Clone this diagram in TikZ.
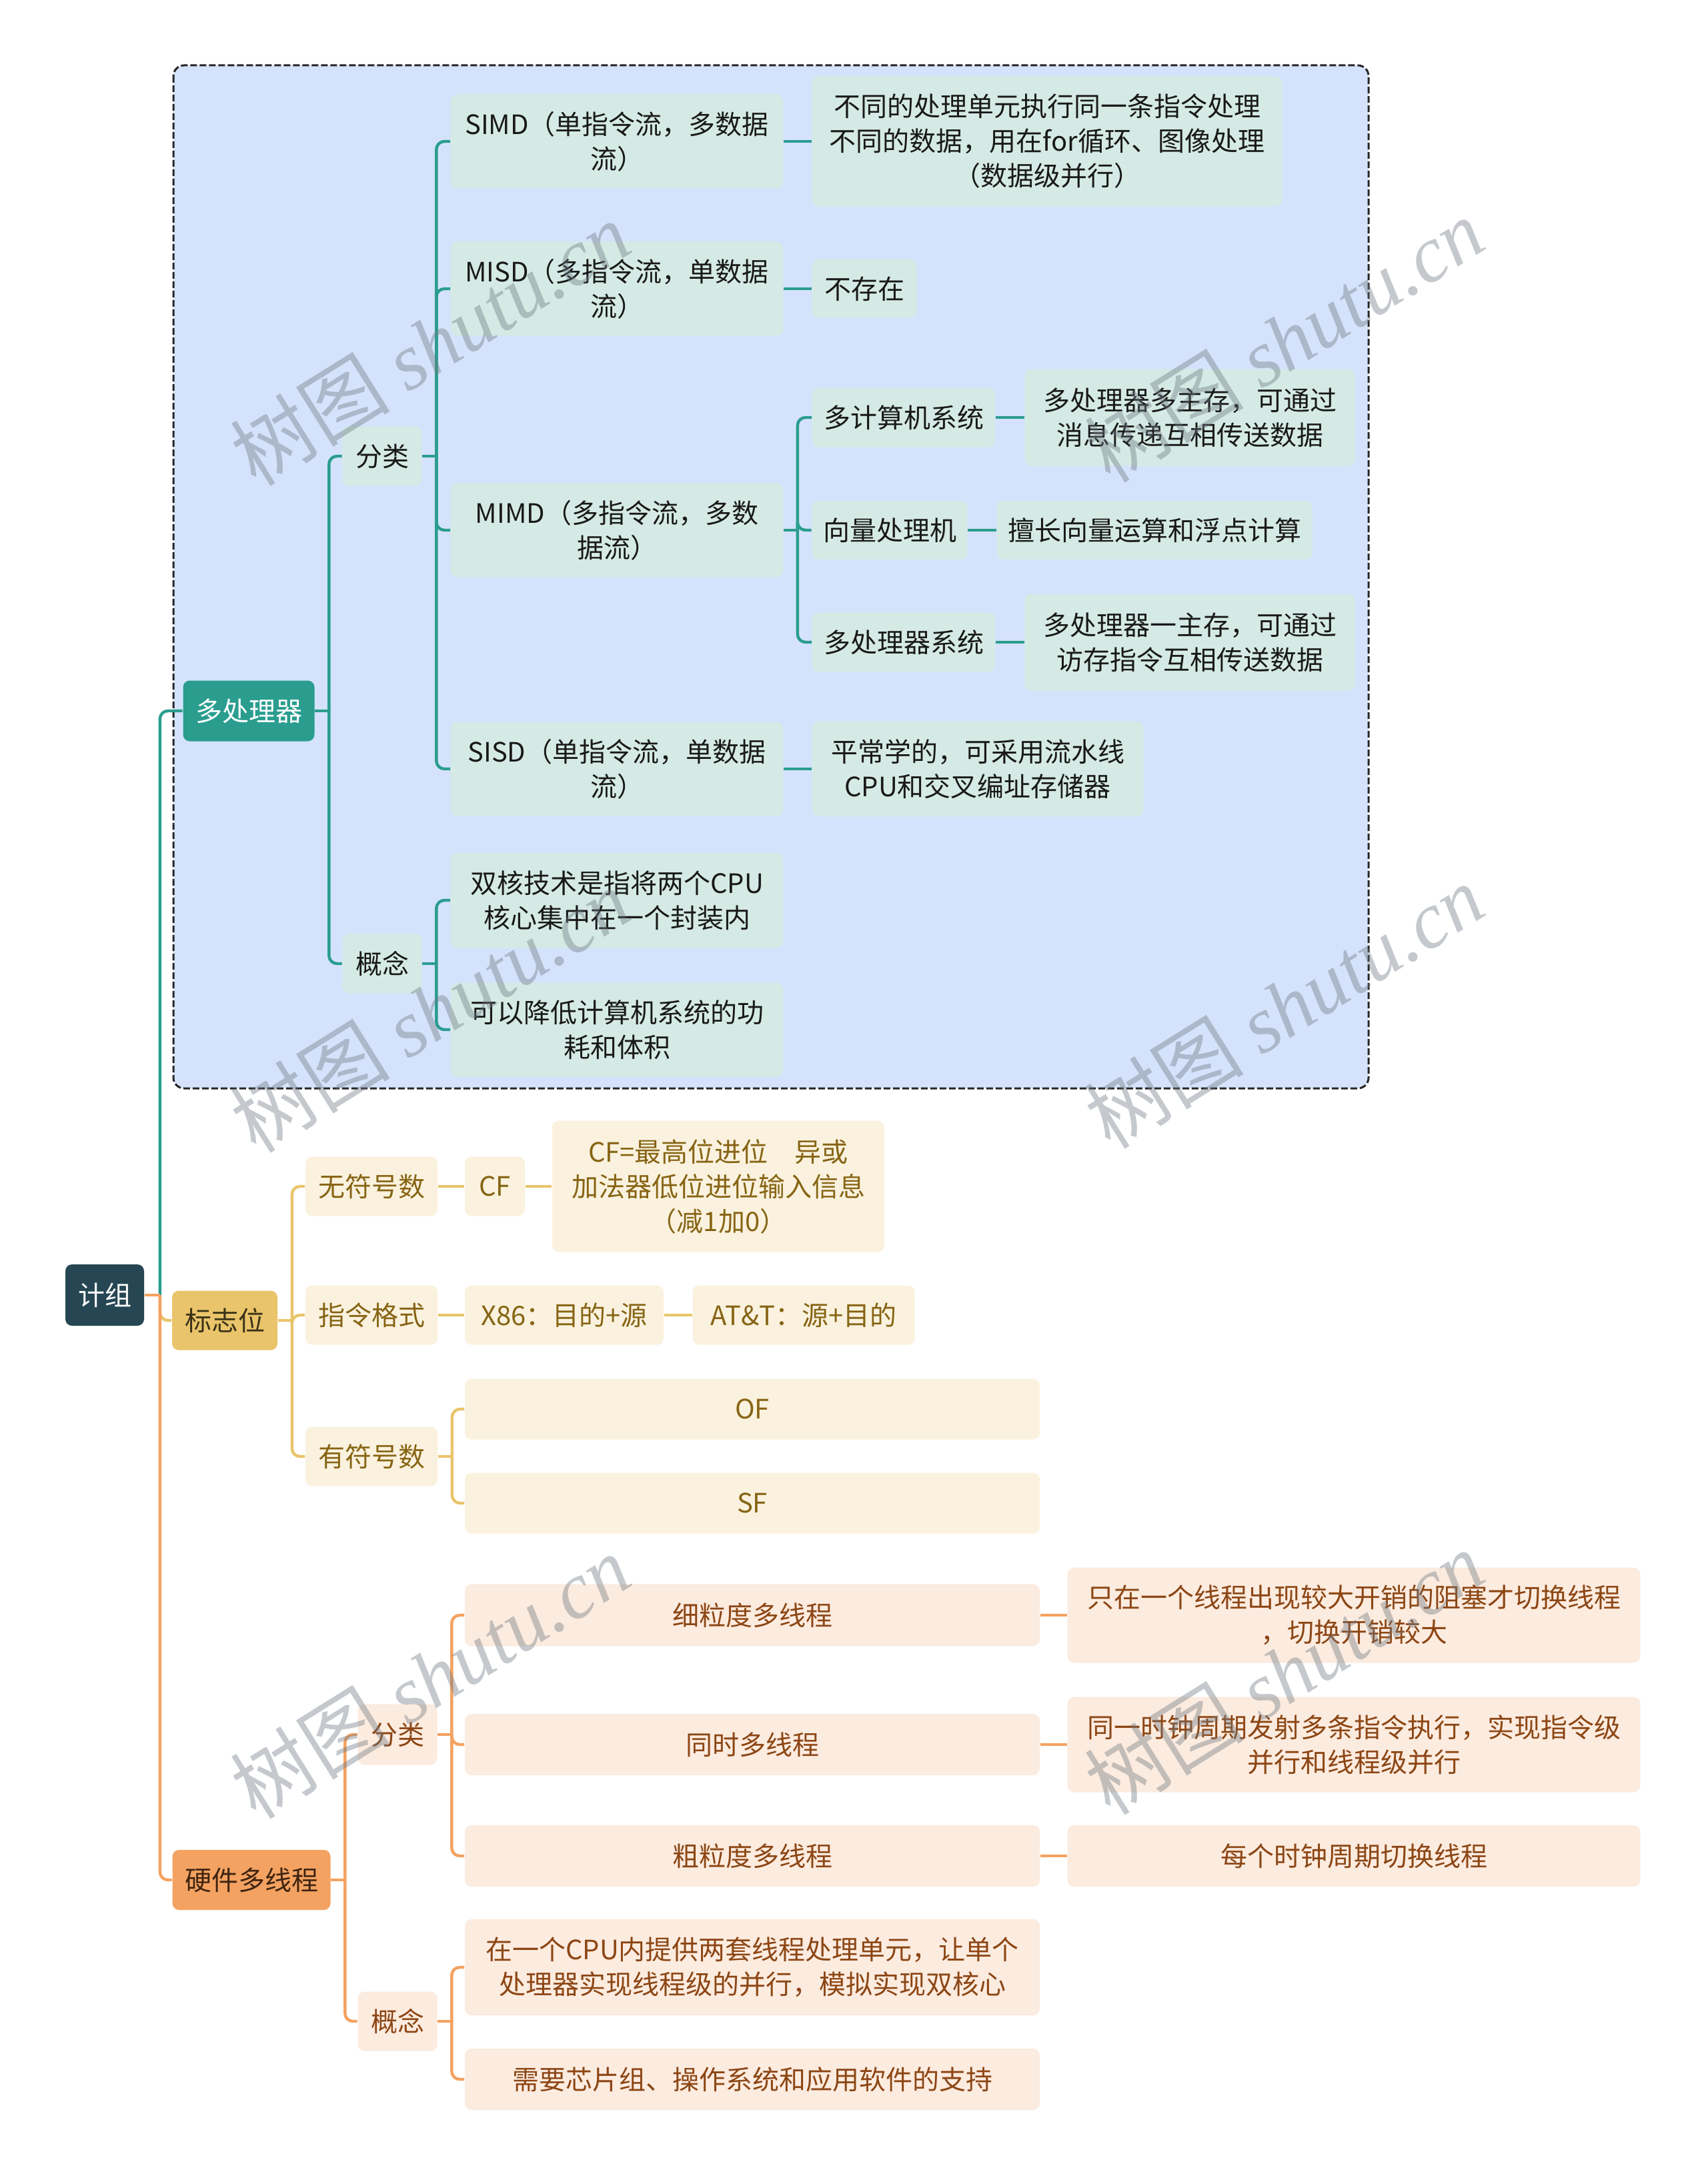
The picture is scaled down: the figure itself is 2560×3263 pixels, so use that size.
\documentclass[tikz,border=0pt]{standalone}
\usepackage{fontspec}
\setmainfont{Noto Sans CJK SC}
\newfontfamily\wmserif{Liberation Serif}
\usetikzlibrary{calc}
\definecolor{tealc}{HTML}{2A9D8F}
\definecolor{rootc}{HTML}{264653}
\definecolor{yelc}{HTML}{E9C46A}
\definecolor{orac}{HTML}{F4A261}
\definecolor{bluebg}{RGB}{212,227,251}
\definecolor{mint}{RGB}{213,234,228}
\definecolor{cream}{RGB}{250,242,222}
\definecolor{peach}{RGB}{252,235,223}
\definecolor{gtwotext}{RGB}{135,100,20}
\definecolor{gthreetext}{RGB}{140,70,20}
\definecolor{wmc}{RGB}{110,120,130}
\definecolor{flagtext}{RGB}{59,51,24}
\definecolor{hwtext}{RGB}{62,36,16}
\tikzset{
  bx/.style={rounded corners=2.5pt, inner sep=0pt, align=center, font={\fontsize{10pt}{13pt}\selectfont}},
  sz/.style 2 args={minimum width=#1*0.25pt, minimum height=#2*0.25pt},
  gone/.style={bx, fill=mint, text=black!90},
  gtwo/.style={bx, fill=cream, text=gtwotext},
  gthree/.style={bx, fill=peach, text=gthreetext},
  conn/.style={line width=1.1pt},
  wm/.style={rotate=32, text=wmc, text opacity=0.4, font={\fontsize{30pt}{30pt}\selectfont}},
}
\newcommand\mmlink[4]{%
  \draw[conn,#1] (#2.east) -- ($(#2.east)+(#4,0)$);
  \draw[conn,#1,rounded corners=3pt] ($(#2.east)+(#4,0)$) |- (#3.west);
}
\begin{document}
\begin{tikzpicture}[x=0.25pt,y=-0.25pt]
\useasboundingbox[fill=white] (0,0) rectangle (2560,3263);
% dashed frame
\draw[fill=bluebg, draw=black!85, line width=0.75pt, dash pattern=on 2.5pt off 1pt, rounded corners=4pt] (260,98) rectangle (2052,1632);

% root and level 1
\node[bx, sz={118}{92}, fill=rootc, text=white] (root) at (157,1942) {计组};
\node[bx, sz={197}{91}, fill=tealc, text=white] (mp) at (373,1066) {多处理器};
\node[bx, sz={158}{89}, fill=yelc, text=flagtext] (flag) at (337,1980) {标志位};
\node[bx, sz={237}{90}, fill=orac, text=hwtext] (hw) at (377,2819) {硬件多线程};

% group 1
\node[gone, sz={119}{89}] (flA) at (573,684) {分类};
\node[gone, sz={119}{89}] (gnA) at (573,1445) {概念};
\node[gone, sz={498}{141}] (simd) at (925,212) {SIMD（单指令流，多数据\\流）};
\node[gone, sz={498}{141}] (misd) at (925,433) {MISD（多指令流，单数据\\流）};
\node[gone, sz={498}{141}] (mimd) at (925,795) {MIMD（多指令流，多数\\据流）};
\node[gone, sz={498}{141}] (sisd) at (925,1153) {SISD（单指令流，单数据\\流）};
\node[gone, sz={705}{195}] (simdc) at (1570,212) {不同的处理单元执行同一条指令处理\\不同的数据，用在for循环、图像处理\\（数据级并行）};
\node[gone, sz={156}{88}] (misdc) at (1296,433) {不存在};
\node[gone, sz={274}{89}] (mcA) at (1355,626) {多计算机系统};
\node[gone, sz={233}{88}] (mcB) at (1334,795) {向量处理机};
\node[gone, sz={274}{89}] (mcC) at (1355,963) {多处理器系统};
\node[gone, sz={495}{145}] (mcAc) at (1784,626) {多处理器多主存，可通过\\消息传递互相传送数据};
\node[gone, sz={473}{88}] (mcBc) at (1731,795) {擅长向量运算和浮点计算};
\node[gone, sz={495}{145}] (mcCc) at (1784,963) {多处理器一主存，可通过\\访存指令互相传送数据};
\node[gone, sz={497}{142}] (sisdc) at (1466,1153) {平常学的，可采用流水线\\CPU和交叉编址存储器};
\node[gone, sz={498}{143}] (gnAa) at (925,1350) {双核技术是指将两个CPU\\核心集中在一个封装内};
\node[gone, sz={498}{141}] (gnAb) at (925,1544) {可以降低计算机系统的功\\耗和体积};

% group 2
\node[gtwo, sz={198}{89}] (uns) at (557,1779) {无符号数};
\node[gtwo, sz={198}{89}] (fmt) at (557,1972) {指令格式};
\node[gtwo, sz={198}{89}] (sgn) at (557,2184) {有符号数};
\node[gtwo, sz={90}{89}] (cf) at (742,1779) {CF};
\node[gtwo, sz={498}{197}] (cfc) at (1077,1779) {CF=最高位进位　异或\\加法器低位进位输入信息\\（减1加0）};
\node[gtwo, sz={298}{89}] (xes) at (846,1972) {X86：目的+源};
\node[gtwo, sz={333}{89}] (att) at (1205,1972) {AT\&T：源+目的};
\node[gtwo, sz={862}{91}] (of) at (1128,2113) {OF};
\node[gtwo, sz={862}{91}] (sf) at (1128,2254) {SF};

% group 3
\node[gthree, sz={119}{91}] (flB) at (596,2601) {分类};
\node[gthree, sz={119}{89}] (gnB) at (596,3031) {概念};
\node[gthree, sz={862}{93}] (tA) at (1128,2422) {细粒度多线程};
\node[gthree, sz={862}{92}] (tB) at (1128,2616) {同时多线程};
\node[gthree, sz={862}{92}] (tC) at (1128,2783) {粗粒度多线程};
\node[gthree, sz={859}{143}] (tAc) at (2030,2422) {只在一个线程出现较大开销的阻塞才切换线程\\，切换开销较大};
\node[gthree, sz={859}{143}] (tBc) at (2030,2616) {同一时钟周期发射多条指令执行，实现指令级\\并行和线程级并行};
\node[gthree, sz={859}{92}] (tCc) at (2030,2783) {每个时钟周期切换线程};
\node[gthree, sz={862}{144}] (gnBa) at (1128,2950) {在一个CPU内提供两套线程处理单元，让单个\\处理器实现线程级的并行，模拟实现双核心};
\node[gthree, sz={862}{92}] (gnBb) at (1128,3118) {需要芯片组、操作系统和应用软件的支持};

% connectors: root
\mmlink{tealc}{root}{mp}{23}
\mmlink{yelc}{root}{flag}{23}
\mmlink{orac}{root}{hw}{23}
% group 1
\mmlink{tealc}{mp}{flA}{21}
\mmlink{tealc}{mp}{gnA}{21}
\mmlink{tealc}{flA}{simd}{21}
\mmlink{tealc}{flA}{misd}{21}
\mmlink{tealc}{flA}{mimd}{21}
\mmlink{tealc}{flA}{sisd}{21}
\mmlink{tealc}{gnA}{gnAa}{21}
\mmlink{tealc}{gnA}{gnAb}{21}
\mmlink{tealc}{mimd}{mcA}{21}
\mmlink{tealc}{mimd}{mcB}{21}
\mmlink{tealc}{mimd}{mcC}{21}
\draw[conn,tealc] (simd.east) -- (simdc.west);
\draw[conn,tealc] (misd.east) -- (misdc.west);
\draw[conn,tealc] (mcA.east) -- (mcAc.west);
\draw[conn,tealc] (mcB.east) -- (mcBc.west);
\draw[conn,tealc] (mcC.east) -- (mcCc.west);
\draw[conn,tealc] (sisd.east) -- (sisdc.west);
% group 2
\mmlink{yelc}{flag}{uns}{21}
\mmlink{yelc}{flag}{fmt}{21}
\mmlink{yelc}{flag}{sgn}{21}
\mmlink{yelc}{sgn}{of}{21}
\mmlink{yelc}{sgn}{sf}{21}
\draw[conn,yelc] (uns.east) -- (cf.west);
\draw[conn,yelc] (cf.east) -- (cfc.west);
\draw[conn,yelc] (fmt.east) -- (xes.west);
\draw[conn,yelc] (xes.east) -- (att.west);
% group 3
\mmlink{orac}{hw}{flB}{21}
\mmlink{orac}{hw}{gnB}{21}
\mmlink{orac}{flB}{tA}{21}
\mmlink{orac}{flB}{tB}{21}
\mmlink{orac}{flB}{tC}{21}
\mmlink{orac}{gnB}{gnBa}{21}
\mmlink{orac}{gnB}{gnBb}{21}
\draw[conn,orac] (tA.east) -- (tAc.west);
\draw[conn,orac] (tB.east) -- (tBc.west);
\draw[conn,orac] (tC.east) -- (tCc.west);

% watermarks
\node[wm] (wmA) at (645,515) {树图 {\wmserif\itshape shutu.cn}};
\node[wm] (wmB) at (1925,510) {树图 {\wmserif\itshape shutu.cn}};
\node[wm] (wmC) at (645,1515) {树图 {\wmserif\itshape shutu.cn}};
\node[wm] (wmD) at (1925,1509) {树图 {\wmserif\itshape shutu.cn}};
\node[wm] (wmE) at (645,2514) {树图 {\wmserif\itshape shutu.cn}};
\node[wm] (wmF) at (1925,2508) {树图 {\wmserif\itshape shutu.cn}};
\end{tikzpicture}
\end{document}
